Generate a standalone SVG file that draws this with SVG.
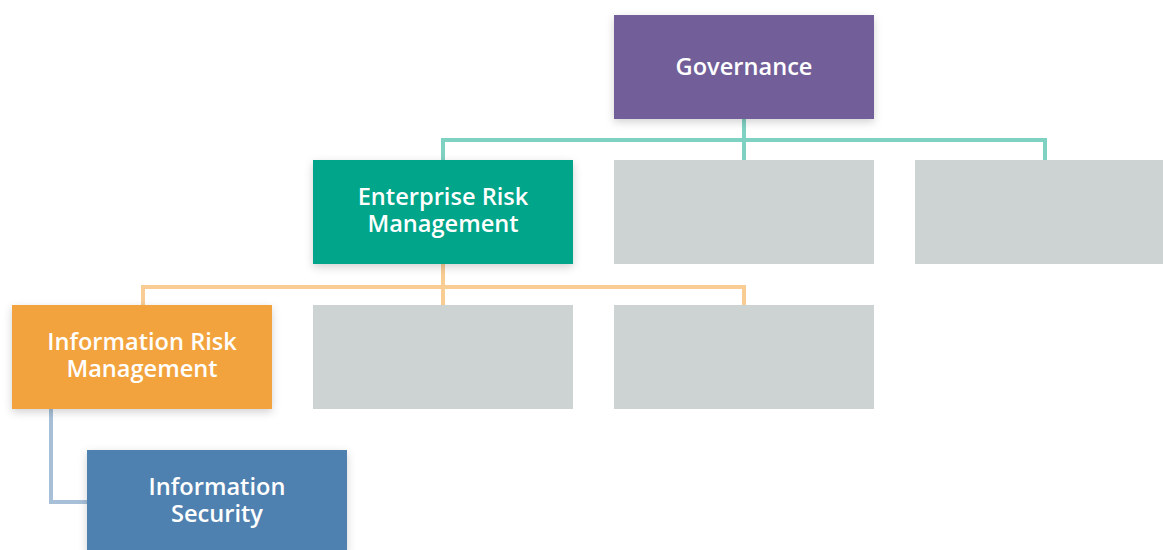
<svg xmlns="http://www.w3.org/2000/svg" width="1163" height="550" viewBox="0 0 1163 550">
<defs>
<filter id="sh" x="-10%" y="-10%" width="120%" height="130%">
<feDropShadow dx="0" dy="3" stdDeviation="4" flood-color="#000" flood-opacity="0.18"/>
</filter>
<style>
.lbl{font-family:"Open Sans","Liberation Sans",sans-serif;font-size:23.6px;font-weight:600;fill:#fff;text-anchor:middle}
.gray{fill:#cdd3d3}
.c{fill:none;stroke-width:4}
</style>
</defs>
<rect width="1163" height="550" fill="#fff"/>
<g id="connectors">
<path class="c" stroke="#7fd1c2" d="M744 119V160M443 160V140H1045V160"/>
<path class="c" stroke="#f8cc93" d="M443 264V305M143 305V287H744V305"/>
<path class="c" stroke="#a7c0d8" d="M51 409V502H87"/>
</g>
<g id="governance"><rect x="614" y="15" width="260" height="104" fill="#725f99" filter="url(#sh)"/><text class="lbl" x="744" y="75">Governance</text></g>
<g id="erm"><rect x="313" y="160" width="260" height="104" fill="#00a58a" filter="url(#sh)"/><text class="lbl" x="443" y="205">Enterprise Risk</text><text class="lbl" x="443" y="232">Management</text></g>
<g id="gray1"><rect class="gray" x="614" y="160" width="260" height="104"/></g>
<g id="gray2"><rect class="gray" x="915" y="160" width="248" height="104"/></g>
<g id="irm"><rect x="12" y="305" width="260" height="104" fill="#f2a33c" filter="url(#sh)"/><text class="lbl" x="142" y="350">Information Risk</text><text class="lbl" x="142" y="377">Management</text></g>
<g id="gray3"><rect class="gray" x="313" y="305" width="260" height="104"/></g>
<g id="gray4"><rect class="gray" x="614" y="305" width="260" height="104"/></g>
<g id="infosec"><rect x="87" y="450" width="260" height="104" fill="#4f81b0" filter="url(#sh)"/><text class="lbl" x="217" y="495">Information</text><text class="lbl" x="217" y="522">Security</text></g>
</svg>
